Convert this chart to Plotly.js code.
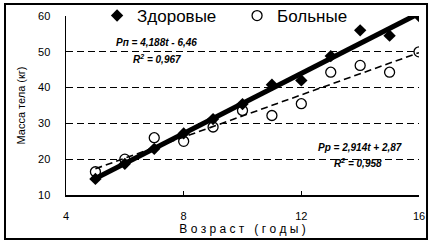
<!DOCTYPE html>
<html>
<head>
<meta charset="utf-8">
<script src="https://cdn.plot.ly/plotly-3.0.1.min.js"></script>
<style>
html,body{margin:0;padding:0;background:#fff;}
#chart{width:432px;height:246px;}
</style>
</head>
<body>
<div id="chart"></div>
<script>
// Age (years)
const ages = [5, 6, 7, 8, 9, 10, 11, 12, 13, 14, 15, 16];
// Body mass, healthy (kg)
const healthy = [14.5, 18.7, 22.9, 27.2, 31.2, 35.4, 40.8, 42, 48.8, 56, 54.5, 60];
// Body mass, sick (kg)
const sick = [16.5, 20, 26, 25, 29, 33.6, 32.2, 35.5, 44.3, 46.2, 44.3, 50];

const seriesNames = ['Здоровые', 'Больные'];
const eqHealthy = 'Рп = 4,188t - 6,46';
const r2Healthy = 'R<sup>2</sup> = 0,967';
const eqSick = 'Рр = 2,914t + 2,87';
const r2Sick = 'R<sup>2</sup> = 0,958';
const xTicks = [4, 8, 12, 16];
const yTicks = [10, 20, 30, 40, 50, 60];

function fit(xs, ys) {
  const n = xs.length;
  const mx = xs.reduce((a, b) => a + b, 0) / n;
  const my = ys.reduce((a, b) => a + b, 0) / n;
  let sxy = 0, sxx = 0;
  for (let i = 0; i < n; i++) { sxy += (xs[i] - mx) * (ys[i] - my); sxx += (xs[i] - mx) ** 2; }
  const b = sxy / sxx;
  return { b: b, a: my - b * mx };
}
const fh = fit(ages, healthy);
const fs = fit(ages, sick);
const tx = [ages[0], ages[ages.length - 1]];

const FONT = 'Arial, "Liberation Sans", sans-serif';

const traces = [
  {
    x: ages, y: sick, type: 'scatter', mode: 'markers', name: seriesNames[1],
    marker: { symbol: 'circle', size: 10, color: '#fff', line: { color: '#000', width: 1.3 } }
  },
  {
    x: tx, y: tx.map(t => fs.a + fs.b * t), type: 'scatter', mode: 'lines', showlegend: false,
    line: { color: '#000', width: 1.6, dash: '7px,4px' }, hoverinfo: 'skip'
  },
  {
    x: ages, y: healthy, type: 'scatter', mode: 'markers', name: seriesNames[0],
    marker: { symbol: 'diamond', size: 9.5, color: '#000' }
  },
  {
    x: tx, y: tx.map(t => fh.a + fh.b * t), type: 'scatter', mode: 'lines', showlegend: false,
    line: { color: '#000', width: 5 }, hoverinfo: 'skip'
  }
];

const annFont = { family: FONT, size: 10, color: '#000', weight: 'bold', style: 'italic' };
const layout = {
  width: 432, height: 246,
  margin: { l: 66, r: 13, t: 16, b: 51, autoexpand: false },
  paper_bgcolor: '#fff', plot_bgcolor: '#fff',
  font: { family: FONT, color: '#000' },
  showlegend: true,
  legend: {
    orientation: 'h', x: 0.088, xanchor: 'left', y: 1.0, yanchor: 'middle',
    bgcolor: 'rgba(0,0,0,0)', font: { family: FONT, size: 17, color: '#000' },
    traceorder: 'reversed', entrywidth: 95, entrywidthmode: 'pixels',
    itemwidth: 30
  },
  xaxis: {
    range: [4, 16], tickvals: xTicks, ticktext: xTicks.map(String),
    showgrid: false, zeroline: false, showline: true, linecolor: '#000', linewidth: 1.5,
    ticks: 'inside', ticklen: 4, tickcolor: '#000', tickwidth: 1.2,
    ticklabelstandoff: 10,
    tickfont: { family: FONT, size: 11, color: '#000' },
    title: { text: 'В о з р а с т   ( г о д ы )', font: { family: FONT, size: 12, color: '#000' }, standoff: 2 }
  },
  yaxis: {
    range: [10, 60], tickvals: yTicks, ticktext: yTicks.map(String),
    showgrid: true, gridcolor: '#000', gridwidth: 1.3, griddash: '7px,4px',
    zeroline: false, showline: true, linecolor: '#000', linewidth: 1.5,
    ticks: '', ticklabelstandoff: 12,
    tickfont: { family: FONT, size: 11, color: '#000' },
    title: { text: 'Масса тела (кг)', font: { family: FONT, size: 11, color: '#000' }, standoff: 10 }
  },
  annotations: [
    { x: 7.09, y: 52.7, xref: 'x', yref: 'y', text: eqHealthy, showarrow: false, font: annFont },
    { x: 7.09, y: 48.0, xref: 'x', yref: 'y', text: r2Healthy, showarrow: false, font: annFont },
    { x: 14.0, y: 23.4, xref: 'x', yref: 'y', text: eqSick, showarrow: false, font: annFont },
    { x: 13.93, y: 18.9, xref: 'x', yref: 'y', text: r2Sick, showarrow: false, font: annFont }
  ],
  shapes: [
    { type: 'rect', xref: 'x', yref: 'paper', x0: 5.0, x1: 14.2, y0: 0.975, y1: 1.02,
      fillcolor: '#fff', line: { width: 0 }, layer: 'between' },
    { type: 'rect', xref: 'paper', yref: 'paper', x0: -0.1728, x1: 1.0227, y0: -0.2458, y1: 1.067,
      line: { color: '#000', width: 2 }, layer: 'above' }
  ]
};

Plotly.newPlot('chart', traces, layout, { staticPlot: true, displayModeBar: false });
</script>
</body>
</html>
